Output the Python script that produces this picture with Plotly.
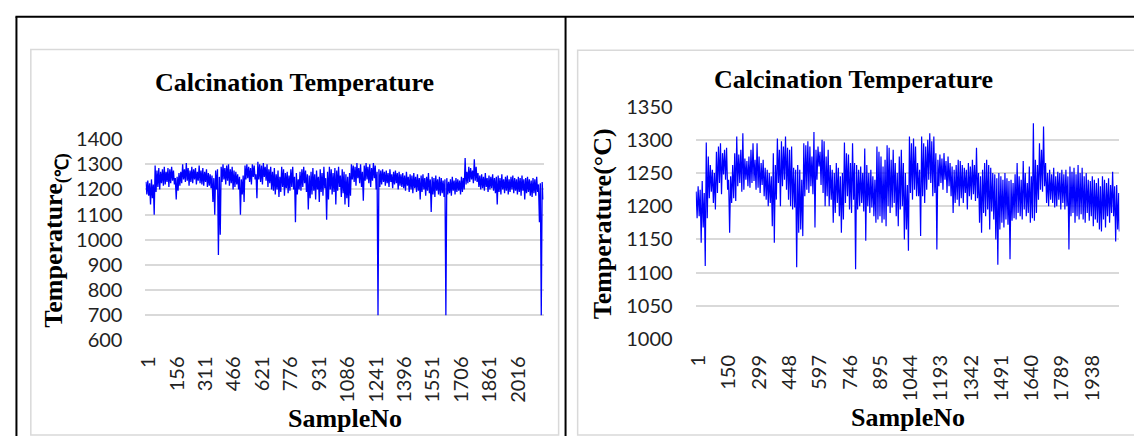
import plotly.graph_objects as go

W, H = 1134, 447

# ---------------- data ----------------
# Each series is summarised per 10-sample bin by the highest and lowest value seen in that bin.
left_bin = 10
left_n = 2170
left_bin_max = [
    1230, 1235, 1225, 1240, 1220, 1295, 1275, 1285, 1270, 1280,
    1290, 1270, 1285, 1280, 1290, 1275, 1245, 1250, 1265, 1270,
    1300, 1280, 1305, 1285, 1275, 1290, 1280, 1285, 1270, 1295,
    1275, 1285, 1270, 1280, 1265, 1260, 1255, 1245, 1275, 1280,
    1250, 1290, 1300, 1285, 1295, 1300, 1280, 1290, 1275, 1270,
    1260, 1250, 1240, 1255, 1295, 1300, 1290, 1285, 1300, 1295,
    1260, 1310, 1300, 1295, 1305, 1290, 1300, 1280, 1290, 1270,
    1285, 1260, 1275, 1250, 1290, 1280, 1265, 1270, 1255, 1280,
    1290, 1250, 1265, 1240, 1270, 1280, 1290, 1275, 1260, 1255,
    1270, 1285, 1260, 1275, 1250, 1280, 1265, 1290, 1245, 1270,
    1290, 1280, 1265, 1285, 1275, 1290, 1255, 1280, 1270, 1260,
    1250, 1265, 1300, 1295, 1290, 1305, 1285, 1300, 1270, 1295,
    1305, 1290, 1300, 1285, 1305, 1295, 1270, 1280, 1275, 1280,
    1270, 1275, 1265, 1280, 1260, 1270, 1275, 1265, 1270, 1260,
    1265, 1255, 1270, 1250, 1260, 1255, 1265, 1250, 1260, 1245,
    1255, 1260, 1245, 1250, 1265, 1240, 1250, 1245, 1255, 1240,
    1250, 1245, 1235, 1240, 1245, 1230, 1240, 1250, 1235, 1245,
    1240, 1235, 1250, 1245, 1325, 1270, 1290, 1285, 1275, 1320,
    1290, 1265, 1255, 1260, 1250, 1265, 1245, 1255, 1250, 1260,
    1245, 1250, 1255, 1245, 1260, 1240, 1250, 1255, 1240, 1250,
    1255, 1245, 1240, 1250, 1245, 1255, 1240, 1245, 1250, 1240,
    1235, 1245, 1240, 1250, 1220, 1225, 1230,
]
left_bin_min = [
    1180, 1175, 1140, 1165, 1100, 1190, 1210, 1200, 1225, 1215,
    1220, 1230, 1210, 1225, 1235, 1220, 1160, 1195, 1215, 1225,
    1240, 1230, 1235, 1215, 1230, 1225, 1240, 1220, 1235, 1225,
    1220, 1215, 1230, 1210, 1215, 1205, 1150, 1100, 1200, 940,
    1020, 1230, 1240, 1220, 1235, 1215, 1225, 1200, 1210, 1220,
    1200, 1100, 1180, 1150, 1240, 1245, 1230, 1220, 1250, 1240,
    1165, 1240, 1230, 1220, 1250, 1235, 1210, 1225, 1200, 1195,
    1180, 1200, 1170, 1190, 1210, 1175, 1205, 1185, 1195, 1210,
    1200, 1070, 1180, 1200, 1195, 1210, 1225, 1190, 1120, 1165,
    1180, 1195, 1160, 1200, 1150, 1190, 1175, 1205, 1080, 1160,
    1200, 1180, 1190, 1140, 1195, 1210, 1170, 1185, 1140, 1165,
    1130, 1175, 1240, 1230, 1215, 1245, 1225, 1210, 1155, 1235,
    1240, 1225, 1210, 1235, 1245, 1200, 700, 1210, 1220, 1230,
    1215, 1225, 1210, 1230, 1205, 1220, 1225, 1200, 1215, 1210,
    1205, 1195, 1215, 1190, 1200, 1185, 1205, 1190, 1195, 1160,
    1190, 1200, 1175, 1195, 1185, 1110, 1180, 1170, 1195, 1180,
    1175, 1185, 1170, 700, 1180, 1185, 1175, 1195, 1180, 1190,
    1195, 1180, 1190, 1200, 1220, 1225, 1230, 1240, 1225, 1235,
    1230, 1210, 1200, 1205, 1195, 1210, 1190, 1200, 1205, 1195,
    1185, 1140, 1190, 1180, 1200, 1185, 1195, 1180, 1190, 1200,
    1185, 1195, 1180, 1190, 1175, 1195, 1160, 1185, 1190, 1175,
    1170, 1185, 1175, 1190, 1070, 700, 1160,
]
left_xticks = [1, 156, 311, 466, 621, 776, 931, 1086, 1241, 1396, 1551, 1706, 1861, 2016]
left_yticks = [600, 700, 800, 900, 1000, 1100, 1200, 1300, 1400]

right_bin = 10
right_n = 2086
right_bin_max = [
    1222, 1230, 1225, 1238, 1220, 1296, 1275, 1262, 1255, 1250,
    1282, 1290, 1295, 1280, 1285, 1288, 1240, 1245, 1262, 1280,
    1305, 1278, 1285, 1310, 1272, 1268, 1275, 1285, 1295, 1270,
    1295, 1275, 1265, 1270, 1258, 1255, 1250, 1245, 1280, 1262,
    1302, 1285, 1298, 1290, 1305, 1288, 1285, 1290, 1258, 1255,
    1262, 1255, 1240, 1295, 1292, 1298, 1290, 1275, 1312, 1285,
    1290, 1282, 1300, 1298, 1275, 1285, 1262, 1255, 1250, 1265,
    1258, 1245, 1250, 1296, 1280, 1278, 1265, 1295, 1265, 1262,
    1255, 1260, 1250, 1287, 1262, 1250, 1255, 1245, 1240, 1290,
    1282, 1275, 1260, 1270, 1292, 1288, 1270, 1285, 1265, 1250,
    1275, 1285, 1265, 1250, 1232, 1305, 1295, 1302, 1290, 1265,
    1255, 1305, 1295, 1290, 1300, 1310, 1298, 1305, 1280, 1270,
    1278, 1272, 1280, 1268, 1275, 1265, 1260, 1255, 1262, 1270,
    1268, 1262, 1258, 1255, 1265, 1260, 1270, 1262, 1288, 1250,
    1245, 1255, 1265, 1270, 1262, 1258, 1250, 1248, 1242, 1250,
    1245, 1240, 1250, 1242, 1238, 1240, 1235, 1248, 1265, 1245,
    1240, 1268, 1250, 1235, 1260, 1245, 1325, 1270, 1262, 1295,
    1285, 1320, 1265, 1250, 1255, 1248, 1258, 1245, 1252, 1250,
    1255, 1248, 1255, 1245, 1260, 1252, 1258, 1248, 1262, 1250,
    1258, 1245, 1250, 1240, 1238, 1245, 1240, 1235, 1242, 1230,
    1245, 1240, 1235, 1242, 1232, 1252, 1230, 1232, 1220,
]
right_bin_min = [
    1182, 1185, 1145, 1168, 1110, 1182, 1212, 1222, 1205, 1195,
    1220, 1235, 1218, 1248, 1240, 1225, 1160, 1205, 1212, 1208,
    1230, 1235, 1222, 1225, 1240, 1230, 1228, 1235, 1238, 1225,
    1228, 1220, 1232, 1215, 1210, 1200, 1205, 1170, 1145, 1210,
    1235, 1200, 1230, 1240, 1225, 1210, 1200, 1195, 1198, 1108,
    1160, 1165, 1155, 1215, 1225, 1220, 1230, 1218, 1168, 1240,
    1260, 1232, 1220, 1200, 1215, 1200, 1210, 1175, 1190, 1205,
    1185, 1160, 1180, 1205, 1215, 1195, 1190, 1210, 1105, 1195,
    1200, 1205, 1192, 1148, 1200, 1190, 1198, 1185, 1175, 1180,
    1185, 1175, 1180, 1170, 1200, 1190, 1198, 1205, 1185, 1170,
    1195, 1200, 1150, 1165, 1133, 1220, 1210, 1225, 1215, 1215,
    1155, 1215, 1205, 1225, 1240, 1235, 1215, 1220, 1135, 1230,
    1235, 1225, 1240, 1220, 1230, 1215, 1190, 1205, 1210, 1200,
    1212, 1205, 1220, 1195, 1215, 1210, 1218, 1208, 1212, 1175,
    1160, 1190, 1185, 1195, 1165, 1192, 1180, 1150, 1112, 1165,
    1175, 1168, 1180, 1172, 1120, 1178, 1182, 1180, 1190, 1185,
    1180, 1195, 1185, 1190, 1175, 1182, 1178, 1190, 1210, 1225,
    1222, 1230, 1205, 1200, 1210, 1205, 1198, 1200, 1210, 1195,
    1205, 1195, 1200, 1135, 1185, 1190, 1175, 1185, 1180, 1188,
    1180, 1175, 1190, 1178, 1185, 1170, 1180, 1175, 1165, 1162,
    1180, 1168, 1185, 1175, 1190, 1185, 1147, 1165, 1162,
]
right_xticks = [1, 150, 299, 448, 597, 746, 895, 1044, 1193, 1342, 1491, 1640, 1789, 1938]
right_yticks = [1000, 1050, 1100, 1150, 1200, 1250, 1300, 1350]

title_text = "Calcination Temperature"
x_title = "SampleNo"
left_y_title = "Temperature<sub>(℃)</sub>"
right_y_title = "Temperature(°C)"


def bins_to_series(bmax, bmin, step, n):
    xs, ys = [], []
    for b, (hi, lo) in enumerate(zip(bmax, bmin)):
        xs.append(min(b * step + 3, n))
        ys.append(hi)
        xs.append(min(b * step + 8, n))
        ys.append(lo)
    return xs, ys


lx, ly = bins_to_series(left_bin_max, left_bin_min, left_bin, left_n)
rx, ry = bins_to_series(right_bin_max, right_bin_min, right_bin, right_n)


def px(v):
    return v / W


def py(v):
    return 1 - v / H


TICK_FONT = dict(family="Lato, 'Open Sans', sans-serif", size=20, color="#222222")
SERIF_B = dict(family="'Liberation Serif', 'Times New Roman', serif", size=26, color="#000000")

fig = go.Figure()
fig.add_trace(go.Scatter(x=lx, y=ly, mode="lines", line=dict(color="#0000FF", width=1.3),
                         xaxis="x", yaxis="y", showlegend=False, hoverinfo="skip"))
fig.add_trace(go.Scatter(x=rx, y=ry, mode="lines", line=dict(color="#0000FF", width=1.2),
                         xaxis="x2", yaxis="y2", showlegend=False, hoverinfo="skip"))

common_x = dict(tickangle=-90, showgrid=False, zeroline=False, showline=False, ticks="",
                tickfont=TICK_FONT, tickmode="array", ticklabelstandoff=11, ticklabelshift=3)
common_y = dict(showgrid=True, gridcolor="#d9d9d9", gridwidth=1.5, zeroline=False, showline=False,
                ticks="", tickfont=TICK_FONT, tickmode="array", ticklabelstandoff=22)

fig.update_layout(
    width=W, height=H, margin=dict(l=0, r=0, t=0, b=0),
    paper_bgcolor="white", plot_bgcolor="white",
    xaxis=dict(domain=[px(136.7), px(538.3)], range=[0.5, left_n + 0.5], anchor="y",
               tickvals=left_xticks, ticktext=[str(t) for t in left_xticks], **common_x),
    yaxis=dict(domain=[py(346), py(133.3)], range=[600, 1400], anchor="x",
               tickvals=left_yticks, ticktext=[str(t) for t in left_yticks], **common_y),
    xaxis2=dict(domain=[px(691.7), px(1119.3)], range=[0.5, right_n + 0.5], anchor="y2",
                tickvals=right_xticks, ticktext=[str(t) for t in right_xticks], **common_x),
    yaxis2=dict(domain=[py(344.5), py(99)], range=[1000, 1350], anchor="x2",
                tickvals=right_yticks, ticktext=[str(t) for t in right_yticks], **common_y),
)

ann = [
    dict(text="<b>%s</b>" % title_text, x=px(287), y=py(73), xanchor="center", yanchor="middle"),
    dict(text="<b>%s</b>" % title_text, x=px(851), y=py(70), xanchor="center", yanchor="middle"),
    dict(text="<b>%s</b>" % x_title, x=px(337.5), y=py(428.5), xanchor="center", yanchor="middle"),
    dict(text="<b>%s</b>" % x_title, x=px(905.5), y=py(427.5), xanchor="center", yanchor="middle"),
    dict(text="<b>%s</b>" % left_y_title, x=px(46), y=py(240), xanchor="center", yanchor="middle",
         textangle=-90),
    dict(text="<b>%s</b>" % right_y_title, x=px(598), y=py(222.5), xanchor="center", yanchor="middle",
         textangle=-90),
]
for a in ann:
    a.update(xref="paper", yref="paper", showarrow=False, font=SERIF_B)
fig.update_layout(annotations=ann)

GRAY = dict(color="#d9d9d9", width=1.5)
BLACK = dict(color="#000000", width=2)
shapes = [
    # chart-area frames
    dict(type="rect", x0=px(21), x1=px(553.5), y0=py(446), y1=py(38.5), line=GRAY),
    dict(type="rect", x0=px(572.7), x1=px(1145), y0=py(446), y1=py(39.3), line=GRAY),
    # table borders
    dict(type="line", x0=px(5.5), x1=px(1134), y0=py(4), y1=py(4), line=BLACK),
    dict(type="line", x0=px(6.5), x1=px(6.5), y0=py(4), y1=py(447), line=BLACK),
    dict(type="line", x0=px(560.5), x1=px(560.5), y0=py(4), y1=py(447), line=BLACK),
]
for s in shapes:
    s.update(xref="paper", yref="paper", layer="above")
fig.update_layout(shapes=shapes)

page_fix = (
    "document.documentElement.style.margin='0px';"
    "document.documentElement.style.padding='0px';"
    "document.documentElement.style.overflow='hidden';"
    "document.body.style.margin='0px';"
    "document.body.style.padding='0px';"
    "document.body.style.overflow='hidden';"
)
fig.write_html("out.html", post_script=page_fix, config={"displayModeBar": False})
